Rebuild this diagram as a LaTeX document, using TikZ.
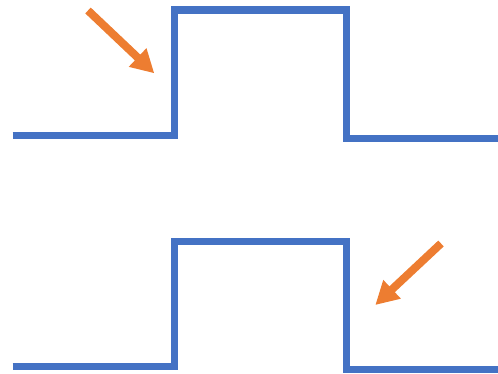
\documentclass[tikz,border=0pt]{standalone}
\usetikzlibrary{arrows.meta}
\definecolor{waveblue}{HTML}{4472C4}
\definecolor{arroworange}{HTML}{ED7D31}
\tikzset{
  wave/.style={draw=waveblue, line width=7.5pt, line join=miter, line cap=butt},
  pointer/.style={draw=arroworange, line width=8pt, -{Triangle[length=23pt,width=24pt]}, arroworange}
}
\begin{document}
\begin{tikzpicture}[x=1pt,y=-1pt]
\useasboundingbox (0,0) rectangle (498,374);
% top pulse
\draw[wave] (12.7,135.7) -- (174.5,135.7) -- (174.5,10) -- (346.5,10) -- (346.5,138.5) -- (498,138.5);
% bottom pulse
\draw[wave] (12.7,366.7) -- (174.5,366.7) -- (174.5,241.3) -- (346.3,241.3) -- (346.3,369.5) -- (498,369.5);
% arrows
\coordinate (t1) at (88,10.5);
\coordinate (h1) at (154.3,73.3);
\coordinate (t2) at (441,243.5);
\coordinate (h2) at (375.3,305);
\draw[pointer] (t1) -- (h1);
\draw[pointer] (t2) -- (h2);
\end{tikzpicture}
\end{document}
